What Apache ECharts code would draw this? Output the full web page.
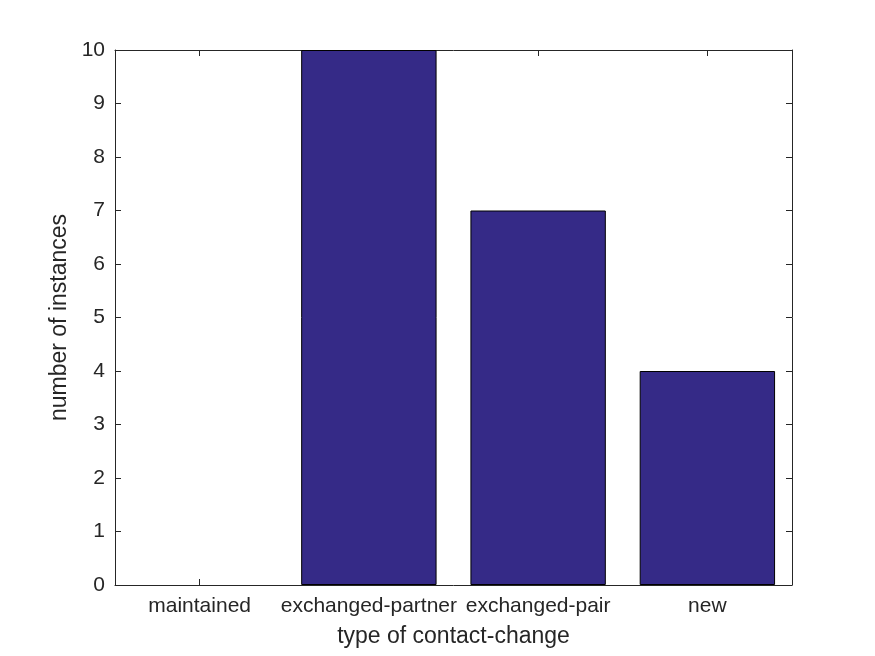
<!DOCTYPE html>
<html><head><meta charset="utf-8">
<script src="https://cdn.jsdelivr.net/npm/echarts@6/dist/echarts.min.js"></script>
<style>html,body{margin:0;padding:0;background:#fff}#c{width:875px;height:656px}</style>
</head><body><div id="c"></div>
<script>
const categories = ['maintained', 'exchanged-partner', 'exchanged-pair', 'new'];
const counts = [0, 10, 7, 4];
const yTicks = [0, 1, 2, 3, 4, 5, 6, 7, 8, 9, 10];

const axisColor = '#262626';
const font = 'Liberation Sans, Arial, Helvetica, sans-serif';
const chart = echarts.init(document.getElementById('c'));
const baseX = {
  type: 'category', data: categories,
  axisLine: {show: true, onZero: false, lineStyle: {color: axisColor, width: 1}},
  axisTick: {show: true, inside: true, alignWithLabel: true, interval: 0, length: 6, lineStyle: {color: axisColor}},
  splitLine: {show: false}
};
const baseY = {
  type: 'value', min: yTicks[0], max: yTicks[yTicks.length - 1], interval: 1,
  axisLine: {show: true, onZero: false, lineStyle: {color: axisColor, width: 1}},
  axisTick: {show: true, inside: true, length: 6, lineStyle: {color: axisColor}},
  splitLine: {show: false}
};
chart.setOption({
  animation: false,
  backgroundColor: '#fff',
  grid: {left: 115, top: 50, right: 83, bottom: 71, containLabel: false},
  xAxis: [
    Object.assign({}, baseX, {
      position: 'bottom',
      axisLabel: {color: axisColor, fontSize: 21, fontFamily: font, margin: 11, interval: 0, hideOverlap: false},
      name: 'type of contact-change', nameLocation: 'middle', nameGap: 40,
      nameTextStyle: {color: axisColor, fontSize: 23, fontFamily: font}
    }),
    Object.assign({}, baseX, {position: 'top', axisLabel: {show: false}})
  ],
  yAxis: [
    Object.assign({}, baseY, {
      position: 'left',
      axisLabel: {color: axisColor, fontSize: 21, fontFamily: font, margin: 10},
      name: 'number of instances', nameLocation: 'middle', nameGap: 41,
      nameTextStyle: {color: axisColor, fontSize: 23, fontFamily: font}
    }),
    Object.assign({}, baseY, {position: 'right', axisLabel: {show: false}})
  ],
  series: [{
    type: 'bar', xAxisIndex: 0, yAxisIndex: 0,
    data: counts.map(v => ({value: v, itemStyle: {borderWidth: v === 0 ? 0 : 1}})),
    barWidth: '80%',
    itemStyle: {color: '#352A87', borderColor: '#000', borderWidth: 1}
  }]
});
</script></body></html>
